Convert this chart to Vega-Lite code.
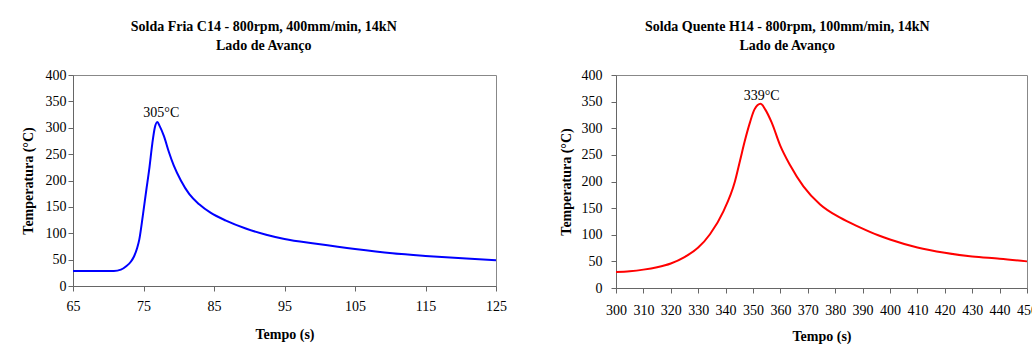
{
  "$schema": "https://vega.github.io/schema/vega-lite/v6.json",
  "background": "white",
  "padding": {"left": 20, "top": 19, "right": 0, "bottom": 0},
  "spacing": 51,
  "config": {
    "font": "Liberation Serif",
    "view": {"stroke": "#888888", "strokeWidth": 1},
    "axis": {
      "grid": false,
      "labelOverlap": false,
      "labelFlush": false,
      "tickCount": 30,
      "domainColor": "#666666",
      "tickColor": "#666666",
      "tickSize": 5,
      "labelFont": "Liberation Serif",
      "labelFontSize": 14,
      "labelColor": "#000000",
      "titleFont": "Liberation Serif",
      "titleFontSize": 14,
      "titleFontWeight": "bold",
      "titleColor": "#000000"
    },
    "title": {"font": "Liberation Serif", "fontSize": 14, "fontWeight": "bold", "color": "#000000"}
  },
  "hconcat": [
    {
      "width": 423,
      "height": 211,
      "title": {"text": ["Solda Fria C14 - 800rpm, 400mm/min, 14kN", "Lado de Avanço"], "frame": "bounds", "anchor": "middle", "lineHeight": 19, "offset": 15},
      "layer": [
        {
          "data": {"values": [
            {"t": 65, "T": 28.5}, {"t": 68, "T": 28.5}, {"t": 70.8, "T": 28.5}, {"t": 71.8, "T": 31},
            {"t": 72.5, "T": 37}, {"t": 73.2, "T": 46}, {"t": 73.65, "T": 56}, {"t": 74.1, "T": 72},
            {"t": 74.4, "T": 88}, {"t": 74.9, "T": 133}, {"t": 75.4, "T": 182}, {"t": 75.8, "T": 220},
            {"t": 76.25, "T": 270}, {"t": 76.6, "T": 300}, {"t": 76.96, "T": 311}, {"t": 77.3, "T": 303},
            {"t": 77.9, "T": 284}, {"t": 78.6, "T": 254}, {"t": 79.3, "T": 228}, {"t": 80.3, "T": 200},
            {"t": 81.5, "T": 174}, {"t": 82.9, "T": 155}, {"t": 84.5, "T": 139}, {"t": 86.7, "T": 124},
            {"t": 89.5, "T": 109}, {"t": 92.4, "T": 97}, {"t": 95, "T": 89}, {"t": 99.5, "T": 80},
            {"t": 105, "T": 70}, {"t": 110.3, "T": 62}, {"t": 115, "T": 57}, {"t": 120.8, "T": 52},
            {"t": 125, "T": 49}
          ]},
          "mark": {"type": "line", "color": "#0000ff", "strokeWidth": 2, "interpolate": "monotone"},
          "encoding": {
            "x": {"field": "t", "type": "quantitative", "scale": {"domain": [65, 125], "nice": false},
                  "axis": {"values": [65, 75, 85, 95, 105, 115, 125], "title": "Tempo (s)", "labelPadding": 8, "titlePadding": 14}},
            "y": {"field": "T", "type": "quantitative", "scale": {"domain": [0, 400], "nice": false},
                  "axis": {"values": [0, 50, 100, 150, 200, 250, 300, 350, 400], "title": "Temperatura (°C)", "labelPadding": 2, "titlePadding": 10}}
          }
        },
        {
          "data": {"values": [{"t": 76.96, "T": 311, "label": "305°C"}]},
          "mark": {"type": "text", "fontSize": 14, "dx": 4, "dy": -9, "baseline": "middle", "color": "#000000"},
          "encoding": {
            "x": {"field": "t", "type": "quantitative"},
            "y": {"field": "T", "type": "quantitative"},
            "text": {"field": "label"}
          }
        }
      ]
    },
    {
      "width": 411,
      "height": 213,
      "title": {"text": ["Solda Quente H14 - 800rpm, 100mm/min, 14kN", "Lado de Avanço"], "frame": "bounds", "anchor": "middle", "lineHeight": 19, "offset": 15, "dx": -11},
      "layer": [
        {
          "data": {"values": [
            {"t": 300, "T": 30}, {"t": 305, "T": 31.5}, {"t": 310, "T": 34.5}, {"t": 315, "T": 39},
            {"t": 320, "T": 46}, {"t": 325, "T": 58}, {"t": 330, "T": 76}, {"t": 334.3, "T": 101},
            {"t": 339.2, "T": 144}, {"t": 343.4, "T": 200}, {"t": 345.3, "T": 240}, {"t": 347, "T": 276},
            {"t": 348.9, "T": 311}, {"t": 350.5, "T": 335}, {"t": 352.8, "T": 346}, {"t": 354.5, "T": 335},
            {"t": 356.8, "T": 311}, {"t": 359.9, "T": 268}, {"t": 363.5, "T": 231}, {"t": 368.4, "T": 191},
            {"t": 374.5, "T": 157}, {"t": 381.8, "T": 132}, {"t": 389, "T": 114}, {"t": 395.7, "T": 99},
            {"t": 400, "T": 91}, {"t": 410, "T": 76}, {"t": 420, "T": 66}, {"t": 430, "T": 59},
            {"t": 440, "T": 55}, {"t": 450, "T": 50}
          ]},
          "mark": {"type": "line", "color": "#ff0000", "strokeWidth": 2, "interpolate": "monotone"},
          "encoding": {
            "x": {"field": "t", "type": "quantitative", "scale": {"domain": [300, 450], "nice": false},
                  "axis": {"values": [300, 310, 320, 330, 340, 350, 360, 370, 380, 390, 400, 410, 420, 430, 440, 450], "title": "Tempo (s)", "labelPadding": 10, "titlePadding": 12}},
            "y": {"field": "T", "type": "quantitative", "scale": {"domain": [0, 400], "nice": false},
                  "axis": {"values": [0, 50, 100, 150, 200, 250, 300, 350, 400], "title": "Temperatura (°C)", "labelPadding": 9, "titlePadding": 8}}
          }
        },
        {
          "data": {"values": [{"t": 352.8, "T": 346, "label": "339°C"}]},
          "mark": {"type": "text", "fontSize": 14, "dx": 1, "dy": -8, "baseline": "middle", "color": "#000000"},
          "encoding": {
            "x": {"field": "t", "type": "quantitative"},
            "y": {"field": "T", "type": "quantitative"},
            "text": {"field": "label"}
          }
        }
      ]
    }
  ]
}
